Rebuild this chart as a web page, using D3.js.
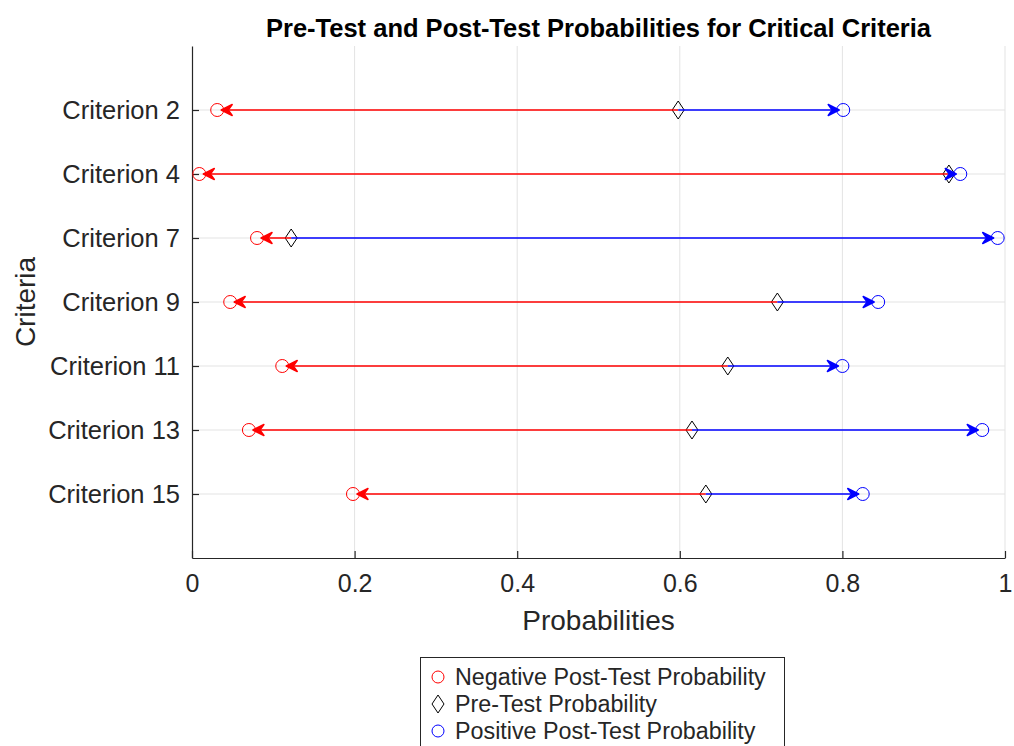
<!DOCTYPE html>
<html>
<head>
<meta charset="utf-8">
<script src="https://cdn.jsdelivr.net/npm/d3@7"></script>
<style>
	body { margin: 0; background: #fff; }
	text { font-family: "Liberation Sans", Arial, sans-serif; }
</style>
</head>
<body>
<div id="chart"></div>
<script>

// values
var categories = ["Criterion 2", "Criterion 4", "Criterion 7", "Criterion 9", "Criterion 11", "Criterion 13", "Criterion 15"];
var preTest = [0.598, 0.931, 0.122, 0.720, 0.659, 0.615, 0.632];
var negPost = [0.031, 0.009, 0.080, 0.047, 0.111, 0.070, 0.198];
var posPost = [0.801, 0.945, 0.991, 0.844, 0.800, 0.972, 0.825];
var xTicks = [0, 0.2, 0.4, 0.6, 0.8, 1];
var legendLabels = ["Negative Post-Test Probability", "Pre-Test Probability", "Positive Post-Test Probability"];

var width = 1014, height = 746;
var plotLeft = 192, plotRight = 1005, plotTop = 46, plotBottom = 558;
var axisColor = "#262626";
var fontFamily = "'Liberation Sans', Arial, sans-serif";

var svg = d3.select("#chart").append("svg")
	.attr("width", width)
	.attr("height", height);

var x = d3.scaleLinear().domain([0, 1]).range([plotLeft, plotRight]);
// categories sit at 1..n, with one empty slot above and below
var y = d3.scaleLinear().domain([0, categories.length + 1]).range([plotTop, plotBottom]);

// grid
svg.append("g").selectAll("line").data(xTicks.slice(1)).enter().append("line")
	.attr("x1", function(d){ return x(d); })
	.attr("x2", function(d){ return x(d); })
	.attr("y1", plotTop).attr("y2", plotBottom)
	.attr("stroke", "#e3e3e3").attr("stroke-width", 1);
svg.append("g").selectAll("line").data(categories).enter().append("line")
	.attr("x1", plotLeft).attr("x2", plotRight)
	.attr("y1", function(d, i){ return y(i + 1); })
	.attr("y2", function(d, i){ return y(i + 1); })
	.attr("stroke", "#e3e3e3").attr("stroke-width", 1);

// x axis, ticks pointing inward
var xAxis = svg.append("g")
	.attr("transform", "translate(0," + plotBottom + ")")
	.call(d3.axisBottom(x).tickValues(xTicks).tickSize(-7).tickSizeOuter(0).tickPadding(16).tickFormat(d3.format("")));
xAxis.selectAll("text").attr("font-size", 25).attr("fill", axisColor).style("font-family", fontFamily);

// y axis
var yAxis = svg.append("g")
	.attr("transform", "translate(" + plotLeft + ",0)")
	.call(d3.axisLeft(y).tickValues(d3.range(1, categories.length + 1)).tickSize(-7).tickSizeOuter(0).tickPadding(12)
		.tickFormat(function(d){ return categories[d - 1]; }));
yAxis.selectAll("text").attr("font-size", 25.5).attr("fill", axisColor).style("font-family", fontFamily);

[xAxis, yAxis].forEach(function(a){
	a.select(".domain").attr("stroke", axisColor).attr("stroke-width", 1.2);
	a.selectAll(".tick line").attr("stroke", axisColor).attr("stroke-width", 1.2);
});

// titles
svg.append("text")
	.attr("x", (plotLeft + plotRight) / 2).attr("y", 37)
	.attr("text-anchor", "middle")
	.attr("font-size", 25.5).attr("font-weight", "bold").attr("fill", "#000")
	.text("Pre-Test and Post-Test Probabilities for Critical Criteria");
svg.append("text")
	.attr("x", (plotLeft + plotRight) / 2).attr("y", 630)
	.attr("text-anchor", "middle")
	.attr("font-size", 28).attr("fill", axisColor)
	.text("Probabilities");
svg.append("text")
	.attr("transform", "translate(35," + ((plotTop + plotBottom) / 2) + ") rotate(-90)")
	.attr("text-anchor", "middle")
	.attr("font-size", 28).attr("fill", axisColor)
	.text("Criteria");

function diamond(g, cx, cy){
	g.append("path")
		.attr("d", "M" + cx + "," + (cy - 9) + "L" + (cx + 6) + "," + cy + "L" + cx + "," + (cy + 9) + "L" + (cx - 6) + "," + cy + "Z")
		.attr("fill", "none").attr("stroke", "#000").attr("stroke-width", 1);
}

// markers
var marks = svg.append("g");
categories.forEach(function(c, i){
	diamond(marks, x(preTest[i]), y(i + 1));
	marks.append("circle").attr("cx", x(negPost[i])).attr("cy", y(i + 1)).attr("r", 6.5)
		.attr("fill", "none").attr("stroke", "#ff0000").attr("stroke-width", 1);
	marks.append("circle").attr("cx", x(posPost[i])).attr("cy", y(i + 1)).attr("r", 6.5)
		.attr("fill", "none").attr("stroke", "#0000ff").attr("stroke-width", 1);
});

// arrows from pre-test to post-test
function arrow(g, x0, x1, cy, color){
	var dir = x1 > x0 ? 1 : -1;
	var tip = x1 - dir * 4;
	g.append("line")
		.attr("x1", x0).attr("x2", tip - dir * 4)
		.attr("y1", cy).attr("y2", cy)
		.attr("stroke", color).attr("stroke-width", 1.5);
	var back = tip - dir * 11, notch = tip - dir * 7;
	g.append("path")
		.attr("d", "M" + tip + "," + cy + "L" + back + "," + (cy - 5.5) + "L" + notch + "," + cy + "L" + back + "," + (cy + 5.5) + "Z")
		.attr("fill", color).attr("stroke", color).attr("stroke-width", 1.5).attr("stroke-linejoin", "round");
}
var arrows = svg.append("g");
categories.forEach(function(c, i){
	arrow(arrows, x(preTest[i]), x(negPost[i]), y(i + 1), "#ff0000");
});
categories.forEach(function(c, i){
	arrow(arrows, x(preTest[i]), x(posPost[i]), y(i + 1), "#0000ff");
});

// legend
var legend = svg.append("g");
legend.append("rect")
	.attr("x", 420.5).attr("y", 657.5).attr("width", 364).attr("height", 110)
	.attr("fill", "#fff").attr("stroke", axisColor).attr("stroke-width", 1);
legendLabels.forEach(function(l, i){
	var ly = 677 + i * 27;
	if(i === 1){
		diamond(legend, 438, ly);
	} else {
		legend.append("circle").attr("cx", 438).attr("cy", ly).attr("r", 6)
			.attr("fill", "none").attr("stroke", i === 0 ? "#ff0000" : "#0000ff").attr("stroke-width", 1);
	}
	legend.append("text")
		.attr("x", 455).attr("y", ly + 8)
		.attr("font-size", 23.3).attr("fill", axisColor)
		.text(l);
});

</script>
</body>
</html>
